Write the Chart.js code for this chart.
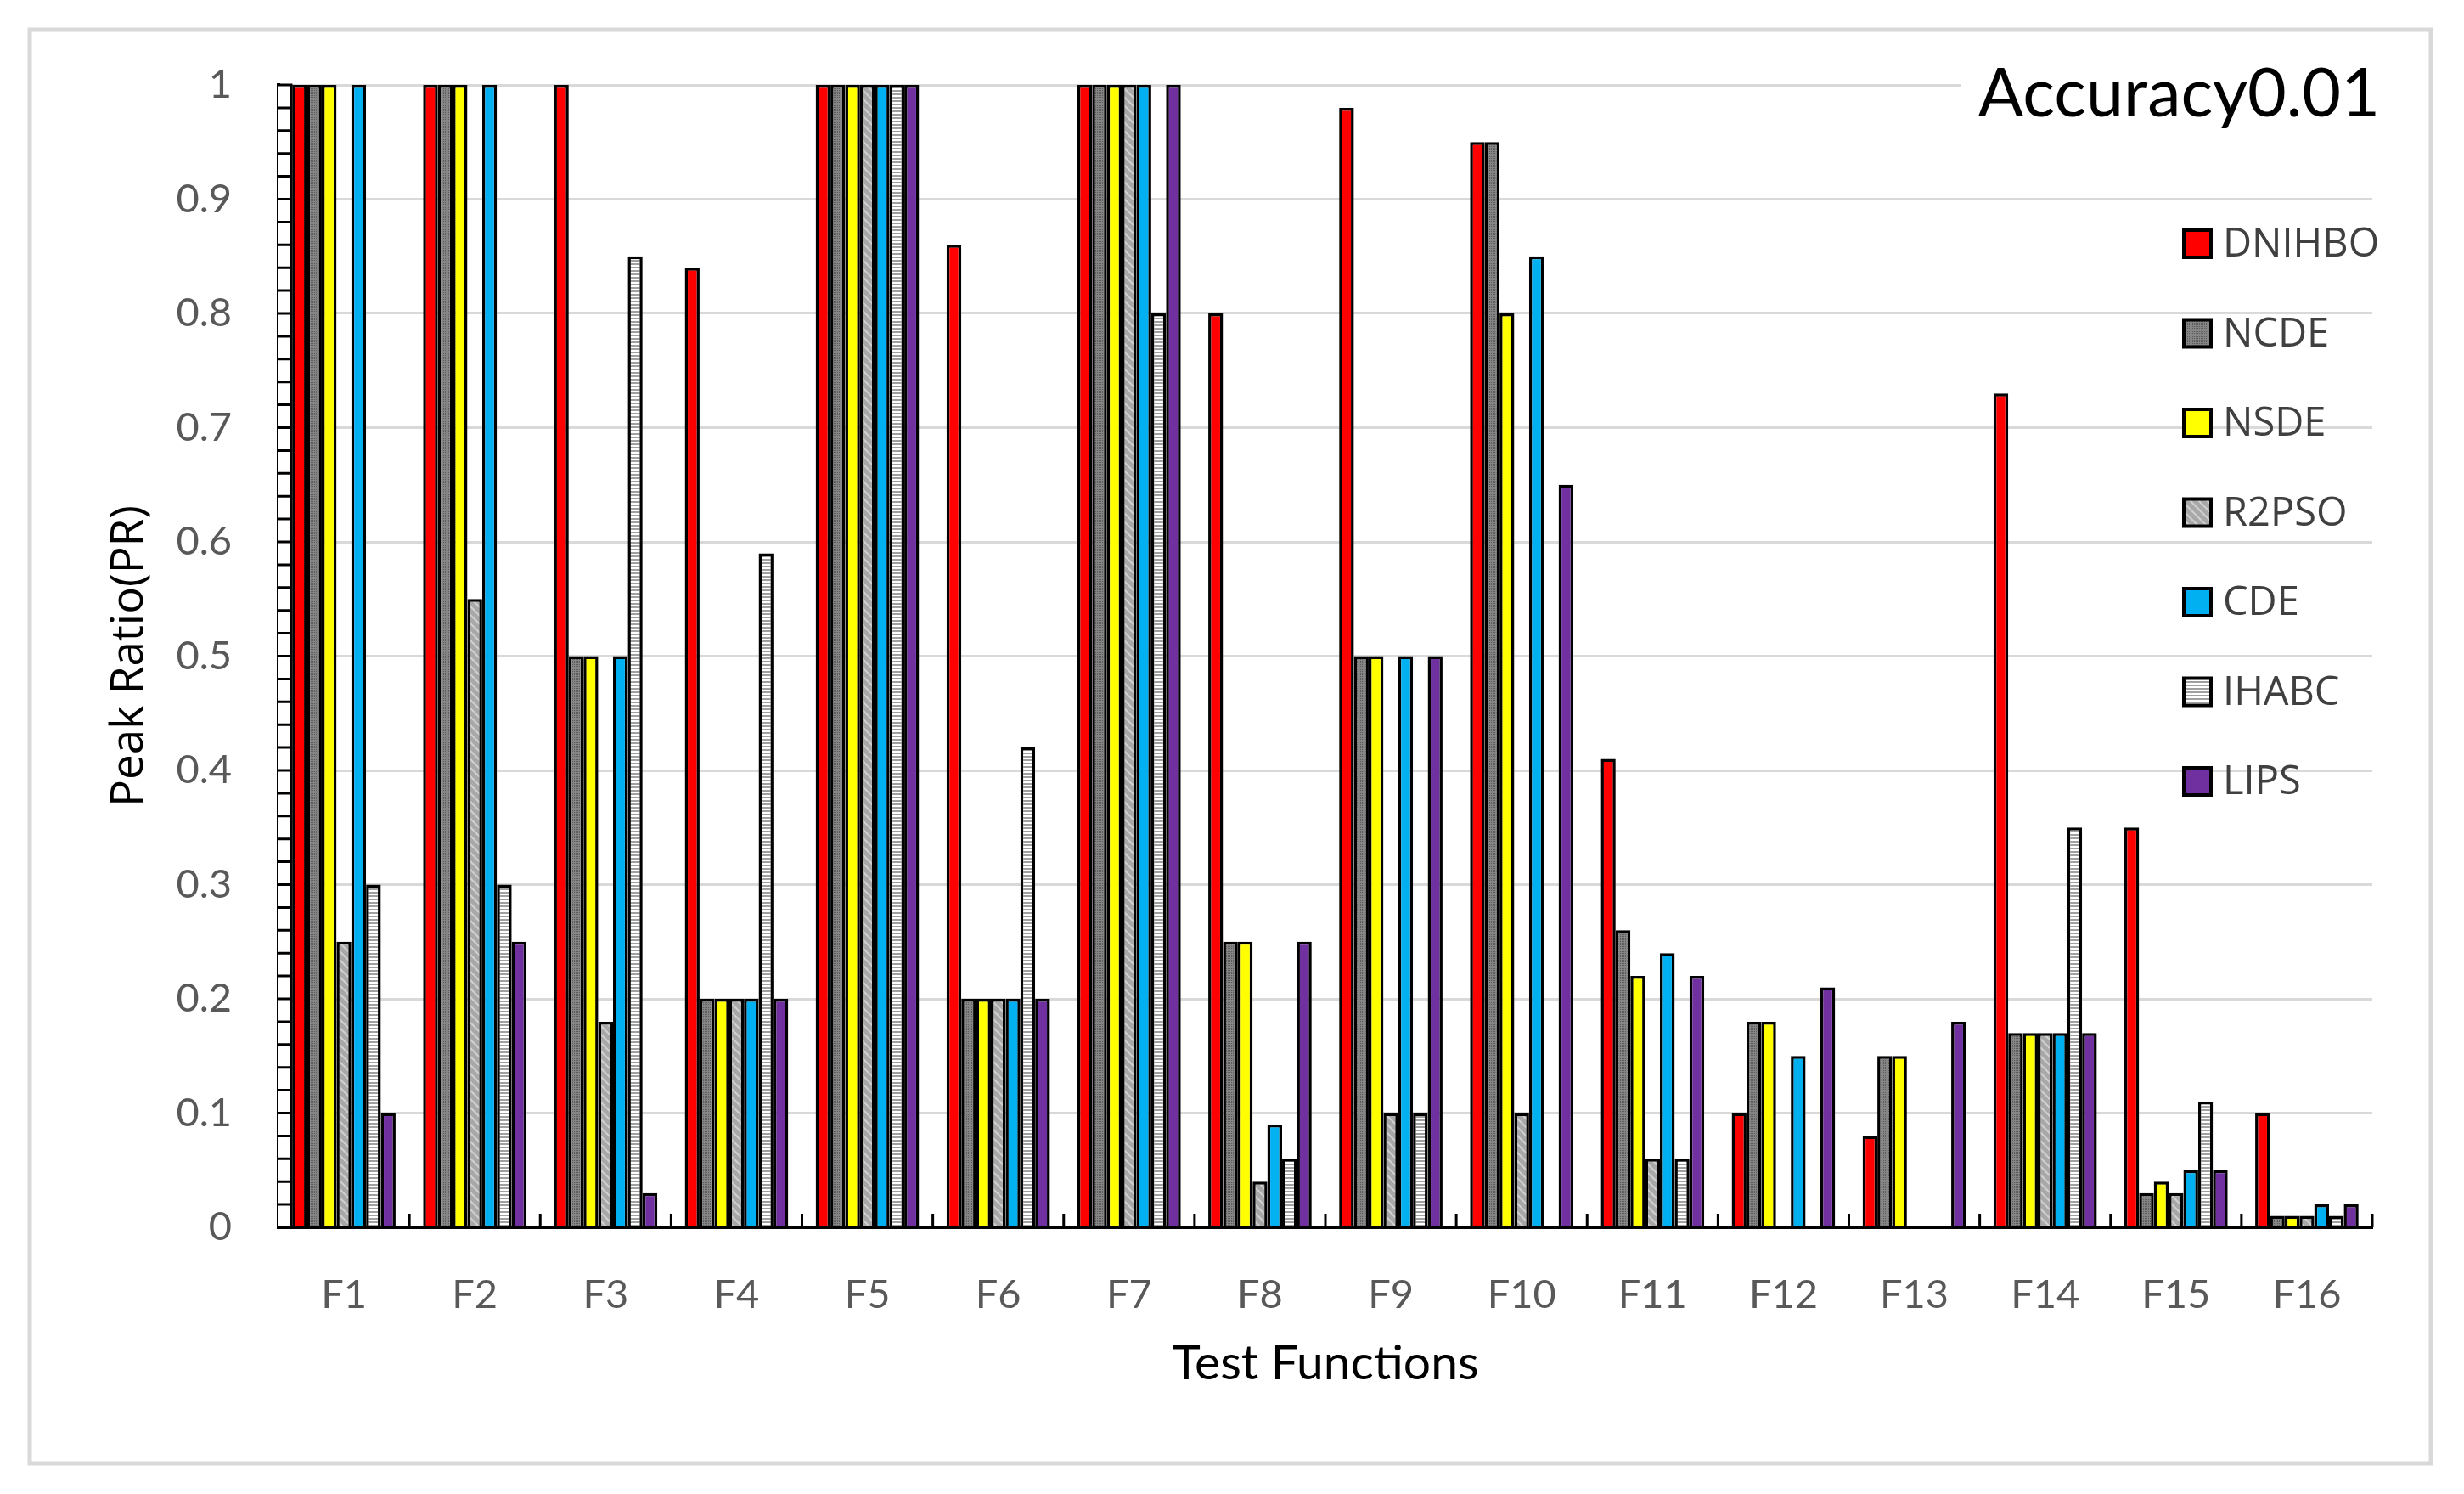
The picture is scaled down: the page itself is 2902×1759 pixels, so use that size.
<!DOCTYPE html>
<html>
<head>
<meta charset="utf-8">
<script src="https://cdn.jsdelivr.net/npm/chart.js@4.4.1/dist/chart.umd.min.js"></script>
<style>
    body { margin: 0; background: #ffffff; }
    #caixaGrafico { width: 2902px; height: 1759px; }
</style>
</head>
<body>
<div id="caixaGrafico"><canvas id="graficoPico"></canvas></div>
<script>
const funcoes = ["F1", "F2", "F3", "F4", "F5", "F6", "F7", "F8", "F9", "F10", "F11", "F12", "F13", "F14", "F15", "F16"];
const rotulosY = ["0", "0.1", "0.2", "0.3", "0.4", "0.5", "0.6", "0.7", "0.8", "0.9", "1"];

const dnihbo = [1, 1, 1, 0.84, 1, 0.86, 1, 0.8, 0.98, 0.95, 0.41, 0.1, 0.08, 0.73, 0.35, 0.1];
const ncde   = [1, 1, 0.5, 0.2, 1, 0.2, 1, 0.25, 0.5, 0.95, 0.26, 0.18, 0.15, 0.17, 0.03, 0.01];
const nsde   = [1, 1, 0.5, 0.2, 1, 0.2, 1, 0.25, 0.5, 0.8, 0.22, 0.18, 0.15, 0.17, 0.04, 0.01];
const r2pso  = [0.25, 0.55, 0.18, 0.2, 1, 0.2, 1, 0.04, 0.1, 0.1, 0.06, 0, 0, 0.17, 0.03, 0.01];
const cde    = [1, 1, 0.5, 0.2, 1, 0.2, 1, 0.09, 0.5, 0.85, 0.24, 0.15, 0, 0.17, 0.05, 0.02];
const ihabc  = [0.3, 0.3, 0.85, 0.59, 1, 0.42, 0.8, 0.06, 0.1, 0, 0.06, 0, 0, 0.35, 0.11, 0.01];
const lips   = [0.1, 0.25, 0.03, 0.2, 1, 0.2, 1, 0.25, 0.5, 0.65, 0.22, 0.21, 0.18, 0.17, 0.05, 0.02];

// texturas dos algoritmos em cinza (como no Excel)
function criarPadrao(tipo) {
    const c = document.createElement('canvas');
    const ctx = c.getContext('2d');
    if (tipo == 'pontos') {
        c.width = 4; c.height = 4;
        ctx.fillStyle = '#858585';
        ctx.fillRect(0, 0, 4, 4);
        ctx.fillStyle = '#5c5c5c';
        ctx.fillRect(0, 0, 1, 1); ctx.fillRect(2, 2, 1, 1);
        ctx.fillRect(2, 0, 1, 1); ctx.fillRect(0, 2, 1, 1);
    } else if (tipo == 'diagonal') {
        c.width = 10; c.height = 10;
        ctx.fillStyle = '#a8a8a8';
        ctx.fillRect(0, 0, 10, 10);
        ctx.strokeStyle = '#d0d0d0';
        ctx.lineWidth = 2;
        ctx.beginPath();
        ctx.moveTo(-2, -2); ctx.lineTo(12, 12);
        ctx.moveTo(-7, 3); ctx.lineTo(7, 17);
        ctx.moveTo(3, -7); ctx.lineTo(17, 7);
        ctx.stroke();
    } else {
        c.width = 4; c.height = 4;
        ctx.fillStyle = '#ffffff';
        ctx.fillRect(0, 0, 4, 4);
        ctx.fillStyle = '#a0a0a0';
        ctx.fillRect(0, 2, 4, 2);
    }
    return ctx.createPattern(c, 'repeat');
}

const data_graficoPico = {
    labels: funcoes,
    datasets: [
        { label: 'DNIHBO', data: dnihbo, backgroundColor: '#ff0000' },
        { label: 'NCDE', data: ncde, backgroundColor: criarPadrao('pontos') },
        { label: 'NSDE', data: nsde, backgroundColor: '#ffff00' },
        { label: 'R2PSO', data: r2pso, backgroundColor: criarPadrao('diagonal') },
        { label: 'CDE', data: cde, backgroundColor: '#00b0f0' },
        { label: 'IHABC', data: ihabc, backgroundColor: criarPadrao('listras') },
        { label: 'LIPS', data: lips, backgroundColor: '#7030a0' }
    ]
};

const moldura = {
    id: 'moldura',
    beforeDraw(chart) {
        const ctx = chart.ctx;
        ctx.save();
        ctx.fillStyle = '#ffffff';
        ctx.fillRect(0, 0, chart.width, chart.height);
        ctx.strokeStyle = '#d9d9d9';
        ctx.lineWidth = 5;
        ctx.strokeRect(35, 35, 2828, 1688);
        ctx.restore();
    }
};

// eixo Y com marcas menores e marcas do eixo X viradas para cima
const marcasEixo = {
    id: 'marcasEixo',
    afterDatasetsDraw(chart) {
        const { ctx, chartArea, scales } = chart;
        const y = scales.y;
        const x0 = chartArea.left;
        const x1 = chartArea.left + 15;
        ctx.save();
        ctx.fillStyle = '#ffffff';
        ctx.fillRect(x0, y.getPixelForValue(1), 15, y.getPixelForValue(0) - y.getPixelForValue(1));
        ctx.strokeStyle = '#000000';
        ctx.lineWidth = 3;
        ctx.beginPath();
        for (let i = 0; i <= 50; i++) {
            const py = y.getPixelForValue(i / 50);
            ctx.moveTo(x0, py);
            ctx.lineTo(x1, py);
        }
        ctx.moveTo(x1, y.getPixelForValue(1) - 1.5);
        ctx.lineTo(x1, y.getPixelForValue(0));
        const n = chart.data.labels.length;
        const larg = (chartArea.right - chartArea.left) / n;
        for (let i = 1; i <= n; i++) {
            const px = chartArea.left + i * larg;
            ctx.moveTo(px, chartArea.bottom);
            ctx.lineTo(px, chartArea.bottom - 16);
        }
        ctx.stroke();
        ctx.restore();
    }
};

const legendaLateral = {
    id: 'legendaLateral',
    afterDraw(chart) {
        const ctx = chart.ctx;
        ctx.save();
        // titulo no canto
        ctx.fillStyle = '#ffffff';
        ctx.fillRect(2310, 58, 510, 90);
        ctx.fillStyle = '#000000';
        ctx.font = '79px Lato';
        ctx.textAlign = 'right';
        ctx.textBaseline = 'alphabetic';
        ctx.fillText('Accuracy0.01', 2803, 137);

        ctx.textAlign = 'left';
        ctx.textBaseline = 'middle';
        ctx.font = '47px "Open Sans"';
        chart.data.datasets.forEach((ds, i) => {
            const cy = 287 + i * 105.5;
            ctx.fillStyle = ds.backgroundColor;
            ctx.fillRect(2572, cy - 16, 32, 32);
            ctx.strokeStyle = '#000000';
            ctx.lineWidth = 4;
            ctx.strokeRect(2572, cy - 16, 32, 32);
            ctx.fillStyle = '#404040';
            ctx.fillText(ds.label, 2618, cy + 2);
        });
        ctx.restore();
    }
};

const config_graficoPico = {
    type: 'bar',
    data: data_graficoPico,
    options: {
        responsive: true,
        maintainAspectRatio: false,
        animation: false,
        layout: {
            padding: { left: 121, right: 108, top: 100, bottom: 119 }
        },
        datasets: {
            bar: {
                categoryPercentage: 0.79,
                barPercentage: 1,
                borderWidth: 3.5,
                borderColor: '#000000'
            }
        },
        scales: {
            x: {
                grid: { display: false },
                border: { display: true, color: '#000000', width: 4 },
                ticks: {
                    color: '#595959',
                    padding: 44,
                    font: { family: 'Lato', size: 47 }
                },
                title: {
                    display: true,
                    text: 'Test Functions',
                    color: '#000000',
                    padding: 0,
                    font: { family: 'Lato', size: 57 }
                },
                afterFit: (s) => { s.height = 195; }
            },
            y: {
                min: 0,
                max: 1,
                grid: { color: '#d9d9d9', lineWidth: 3, drawTicks: false },
                border: { display: true, color: '#000000', width: 4 },
                ticks: {
                    stepSize: 0.1,
                    padding: 55,
                    color: '#595959',
                    font: { family: 'Lato', size: 47 },
                    callback: (v, i) => rotulosY[i]
                },
                title: {
                    display: true,
                    text: 'Peak Ratio(PR)',
                    color: '#000000',
                    padding: 0,
                    font: { family: 'Open Sans', size: 53 }
                },
                afterFit: (s) => { s.width = 207; }
            }
        },
        plugins: {
            legend: { display: false },
            tooltip: { enabled: false }
        }
    },
    plugins: [moldura, marcasEixo, legendaLateral]
};

const graficoPico = new Chart(document.getElementById('graficoPico'), config_graficoPico);
</script>
</body>
</html>
